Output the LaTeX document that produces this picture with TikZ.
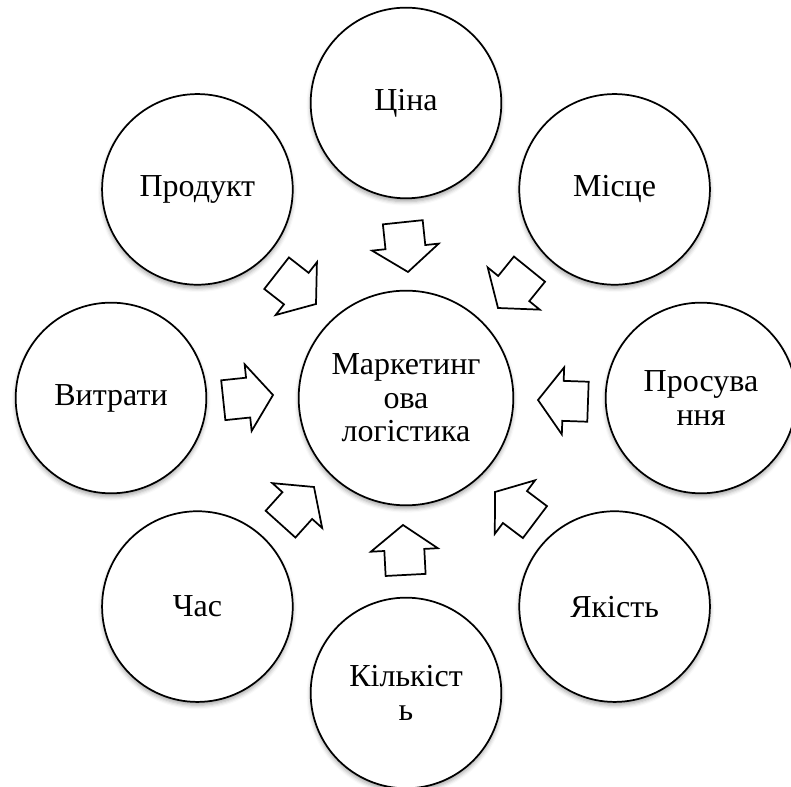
\documentclass[tikz,border=0pt]{standalone}
\usepackage{fontspec}
\setmainfont{Liberation Serif}
\newfontfamily\bubblefont{Liberation Serif}
\usetikzlibrary{shadows.blur}
\begin{document}
\begin{tikzpicture}[x=0.75pt,y=0.75pt,
  bubble/.style={circle, draw=black, line width=1.3pt, fill=white,
    minimum size=#1, inner sep=0pt, align=center,
    font=\bubblefont\fontsize{24}{25}\selectfont,
    blur shadow={shadow xshift=0pt, shadow yshift=-2.5pt, shadow blur radius=3pt, shadow opacity=35}},
  bubble/.default={143pt},
  blockarrow/.style={draw=black, line width=1.3pt, fill=white, line join=miter}]
\useasboundingbox (0,0) rectangle (791,787);
\node[bubble=161pt] (c) at (406,389) {Маркетинг\\ова\\логістика};
\node[bubble] (cina) at ($(c)+(90:295)$) {Ціна};
\node[bubble] (misce) at ($(c)+(45:295)$) {Місце};
\node[bubble] (pros) at ($(c)+(0:295)$) {Просува\\ння};
\node[bubble] (yak) at ($(c)+(-45:295)$) {Якість};
\node[bubble] (kil) at ($(c)+(-90:295)$) {Кількіст\\ь};
\node[bubble] (chas) at ($(c)+(-135:295)$) {Час};
\node[bubble] (vytr) at ($(c)+(180:295)$) {Витрати};
\node[bubble] (prod) at ($(c)+(135:295)$) {Продукт};
\foreach \tx/\ty/\ang in {408/515/-84, 498/479/-129, 538/387/178, 495/295/143,
                          403/262/93, 314/300/48, 273/392/6, 316/483/-38}{
  \draw[blockarrow, shift={(\tx,\ty)}, rotate=\ang]
    (0,0) -- (-25,33.5) -- (-25,20) -- (-50,20) -- (-50,-20) -- (-25,-20) -- (-25,-33.5) -- cycle;
}
\end{tikzpicture}
\end{document}
